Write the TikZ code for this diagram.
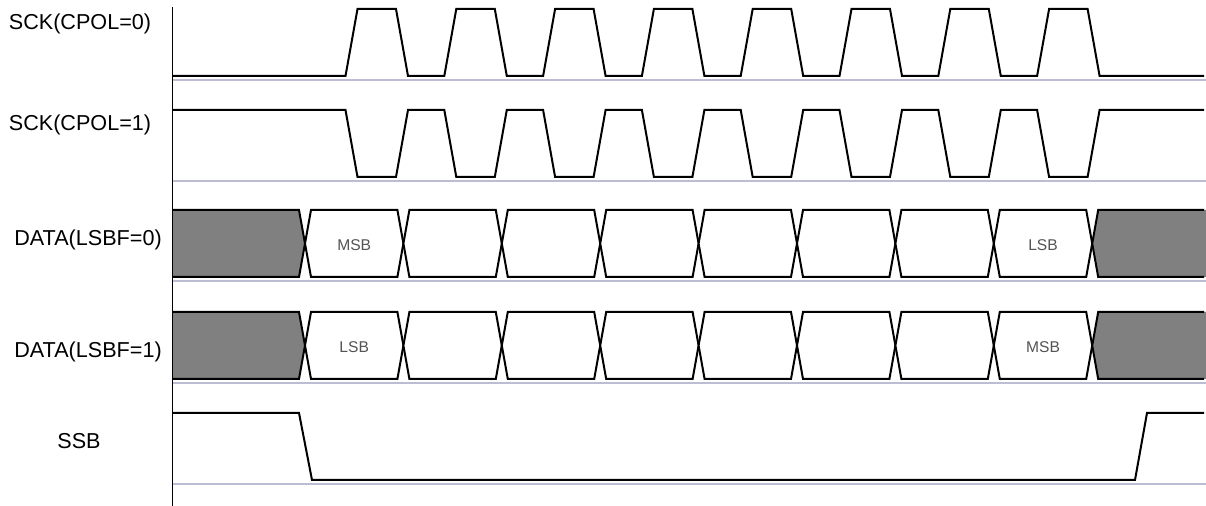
\documentclass[tikz,border=0pt]{standalone}
\usepackage{fontspec}
\setmainfont{Liberation Sans}
\definecolor{idlegray}{rgb}{0.5,0.5,0.5}
\definecolor{baseln}{RGB}{188,188,212}
\definecolor{bittext}{rgb}{0.33,0.33,0.33}

\begin{document}
\begin{tikzpicture}[x=0.5pt, y=-0.5pt, sig/.style = {draw=black, line width=1pt, line join=miter}, zero/.style = {draw=baseln, line width=0.65pt}, signame/.style = {font=\fontsize{10.8}{13}\selectfont}, bitname/.style = {font=\fontsize{7.8}{9}\selectfont, text=bittext}]
	\useasboundingbox (0,0) rectangle (1206,506);
	% baselines and time axis
	\foreach \b in {80,181,281,383,484} \draw[zero] (172,\b) -- (1206,\b);
	\draw[line width=0.5pt] (172,7) -- (172,506);
	% signal names
	\node[signame] (sck0) at (80,24) {SCK(CPOL=0)};
	\node[signame] (sck1) at (80,125) {SCK(CPOL=1)};
	\node[signame] (data0) at (88,240) {DATA(LSBF=0)};
	\node[signame] (data1) at (88,352) {DATA(LSBF=1)};
	\node[signame] (ssb) at (79,441) {SSB};
	% clocks
	\draw[sig] (173,76) \foreach \k in {0,...,7} { -- ({345.5+98.8*\k},76) -- ({357.5+98.8*\k},9) -- ({396+98.8*\k},9) -- ({408+98.8*\k},76) } -- (1204,76);
	\draw[sig] (173,110) \foreach \k in {0,...,7} { -- ({345.5+98.8*\k},110) -- ({357.5+98.8*\k},177) -- ({396+98.8*\k},177) -- ({408+98.8*\k},110) } -- (1204,110);
	% data
	\foreach \t/\m/\bb/\first/\last in {210/243.5/277/MSB/LSB, 312/345.5/379/LSB/MSB} {
		\fill[idlegray] (173,\t) -- (299,\t) -- (305,\m) -- (299,\bb) -- (173,\bb) -- cycle;
		\draw[sig] (173,\t) -- (299,\t) -- (305,\m) -- (299,\bb) -- (173,\bb);
		\foreach \k in {0,...,7}
			\draw[sig, fill=white] ({305+98.4*\k},\m) -- ({311+98.4*\k},\t) -- ({299+98.4*(\k+1)},\t) -- ({305+98.4*(\k+1)},\m) -- ({299+98.4*(\k+1)},\bb) -- ({311+98.4*\k},\bb) -- cycle;
		\fill[idlegray] (1092.2,\m) -- (1098.2,\t) -- (1206,\t) -- (1206,\bb) -- (1098.2,\bb) -- cycle;
		\draw[sig] (1204,\t) -- (1098.2,\t) -- (1092.2,\m) -- (1098.2,\bb) -- (1204,\bb);
		\node[bitname] (first\t) at (354.2,{\m+1.5}) {\first};
		\node[bitname] (last\t) at (1043,{\m+1.5}) {\last};
	}
	% slave select
	\draw[sig] (173,413) -- (299,413) -- (312,480) -- (1135,480) -- (1147,413) -- (1204,413);
\end{tikzpicture}
\end{document}
